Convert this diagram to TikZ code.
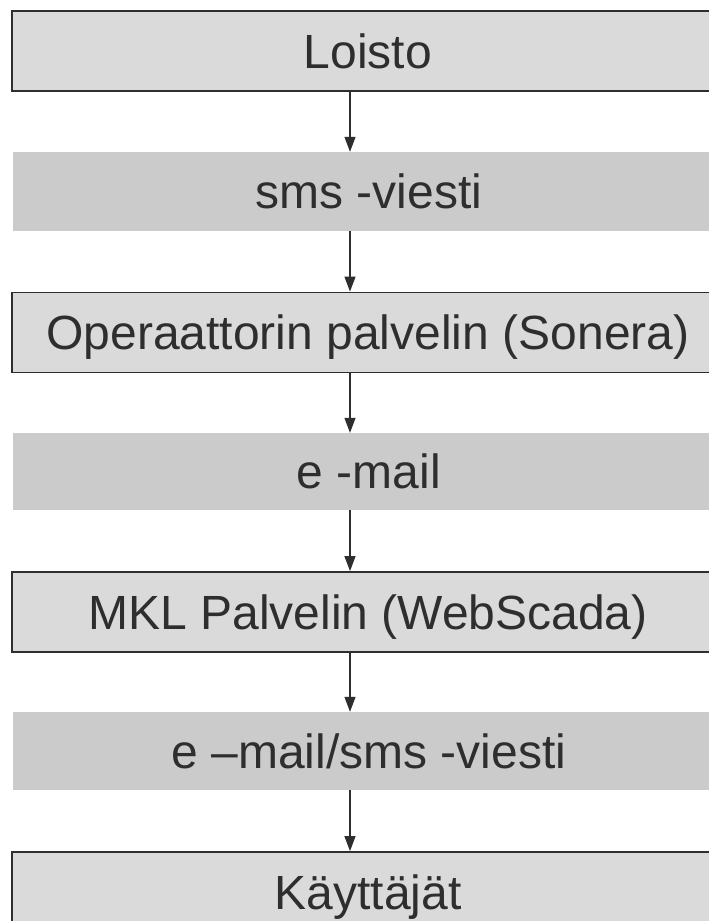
\documentclass[tikz,border=0pt]{standalone}
\usepackage{fontspec}
\setmainfont{Liberation Sans}
\usetikzlibrary{arrows.meta}
\definecolor{boxfill}{HTML}{DADADA}
\definecolor{bandfill}{HTML}{CBCBCB}
\definecolor{inkc}{HTML}{2E2E2E}
\begin{document}
\begin{tikzpicture}[x=1pt,y=-1pt,
  every node/.style={font=\fontsize{48}{56}\selectfont, text=inkc,
    text height=34.4pt, text depth=0pt, inner sep=0pt,
    minimum width=712pt},
  framebox/.style={draw=inkc, line width=1.8pt, fill=boxfill, minimum height=80pt},
  bandbox/.style={fill=bandfill},
  flow/.style={draw=inkc, line width=1.2pt, -{Triangle[width=11pt,length=15pt]}}]
\useasboundingbox (0,0) rectangle (709,921);
\fill[white] (0,0) rectangle (709,921);
\node[framebox] (loisto) at (368,51) {Loisto};
\node[bandbox, minimum height=79pt] (sms) at (369,191.5) {sms -viesti};
\node[framebox] (oper) at (368,332.5) {Operaattorin palvelin (Sonera)};
\node[bandbox, minimum height=77pt] (mail) at (369,471.5) {e -mail};
\node[framebox] (mkl) at (368,612) {MKL Palvelin (WebScada)};
\node[bandbox, minimum height=78pt] (mailsms) at (369,751) {e –mail/sms -viesti};
\node[framebox] (kayt) at (368,892) {Käyttäjät};
\coordinate (ax) at (350,0);
\draw[flow] (loisto.south -| ax) -- (sms.north -| ax);
\draw[flow] (sms.south -| ax) -- (oper.north -| ax);
\draw[flow] (oper.south -| ax) -- (mail.north -| ax);
\draw[flow] (mail.south -| ax) -- (mkl.north -| ax);
\draw[flow] (mkl.south -| ax) -- (mailsms.north -| ax);
\draw[flow] (mailsms.south -| ax) -- (kayt.north -| ax);
\end{tikzpicture}
\end{document}
